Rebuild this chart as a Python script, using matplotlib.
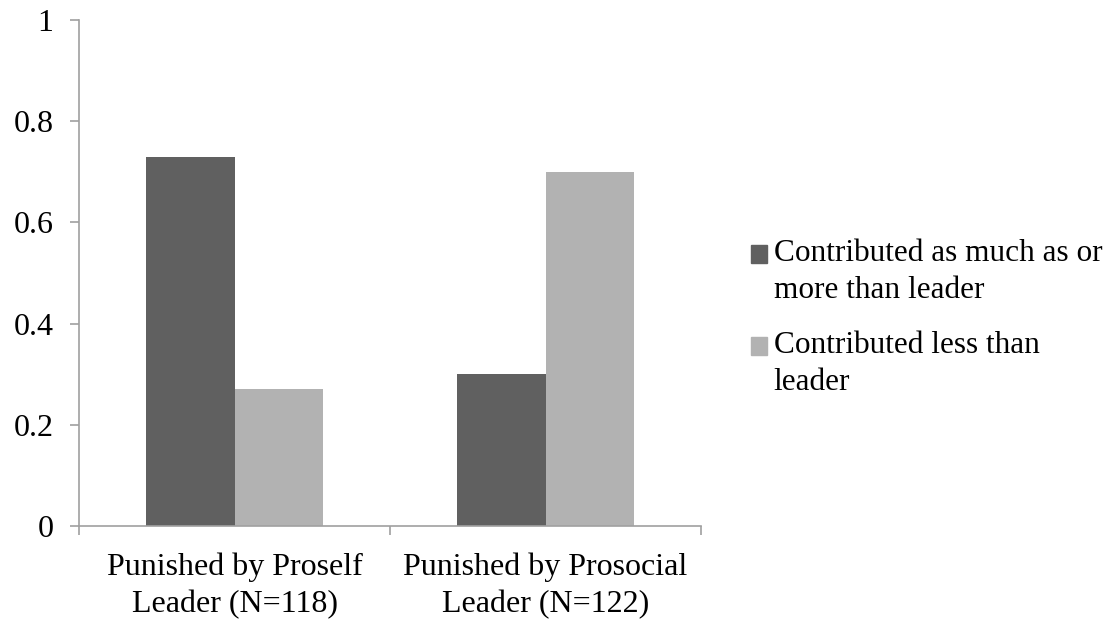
import numpy as np
import matplotlib.pyplot as plt
from matplotlib.patches import Patch, Rectangle
from matplotlib.legend_handler import HandlerPatch

categories = ['Punished by Proself\nLeader (N=118)', 'Punished by Prosocial\nLeader (N=122)']
series_names = ['Contributed as much as or\nmore than leader', 'Contributed less than\nleader']
as_much = [0.73, 0.30]
less_than = [0.27, 0.70]
y_ticks = [0, 0.2, 0.4, 0.6, 0.8, 1]
y_labels = ['0', '0.2', '0.4', '0.6', '0.8', '1']

dark = '#606060'
light = '#b2b2b2'
axis_gray = '#a0a0a0'

plt.rcParams['font.family'] = ['Liberation Serif', 'DejaVu Serif']

fig = plt.figure(figsize=(11.16, 6.2), dpi=100)
ax = fig.add_axes([79 / 1116, 1 - 526 / 620, 622 / 1116, 506 / 620])

x = np.arange(len(categories))
w = 0.286
ax.bar(x - w / 2, as_much, width=w, color=dark, label=series_names[0])
ax.bar(x + w / 2, less_than, width=w, color=light, label=series_names[1])

ax.set_xlim(-0.5, len(categories) - 0.5)
ax.set_ylim(0, 1)
ax.set_yticks(y_ticks)
ax.set_yticklabels(y_labels, fontsize=23)
ax.set_xticks(x)
ax.set_xticklabels(categories, fontsize=23, linespacing=1.35)
# category boundary ticks
ax.set_xticks(np.arange(-0.5, len(categories)), minor=True)
ax.tick_params(axis='x', which='major', length=0, pad=19)
ax.tick_params(axis='x', which='minor', length=6.5, color=axis_gray, width=1.2)
ax.tick_params(axis='y', length=6.5, color=axis_gray, width=1.2, pad=12)

for s in ['top', 'right']:
    ax.spines[s].set_visible(False)
for s in ['left', 'bottom']:
    ax.spines[s].set_color(axis_gray)
    ax.spines[s].set_linewidth(1.2)


# legend squares sit next to the first line of each label
def top_square(legend, orig_handle, xdescent, ydescent, width, height, fontsize):
    return Rectangle((-xdescent, -ydescent + 0.58 * fontsize), width, height)


handles = [Patch(color=dark), Patch(color=light)]
leg = fig.legend(handles, series_names, loc='upper left', bbox_to_anchor=(751 / 1116, 1 - 239 / 620),
                 frameon=False, fontsize=22.5, handlelength=0.51, handleheight=0.51,
                 handletextpad=0.22, labelspacing=0.83, borderpad=0, borderaxespad=0,
                 handler_map={Patch: HandlerPatch(patch_func=top_square)})
for t in leg.get_texts():
    t.set_linespacing(1.37)

fig.savefig('out.png', dpi=100)
